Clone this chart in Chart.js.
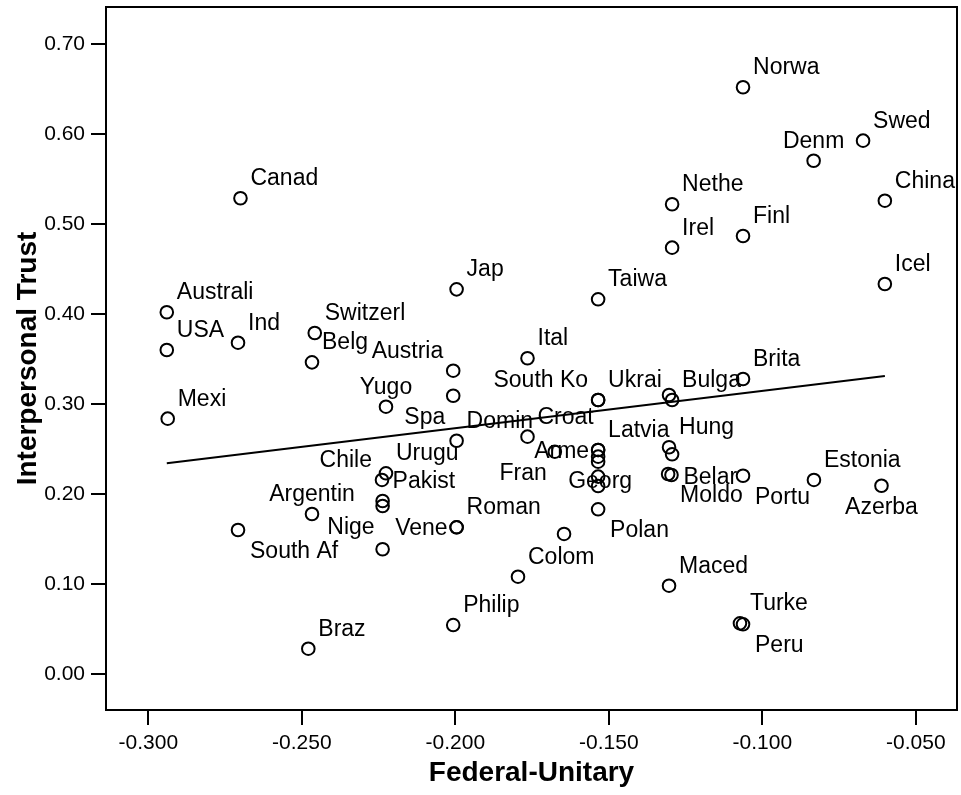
<!DOCTYPE html>
<html lang="en">
<head>
  <meta charset="UTF-8">
  <title>Interpersonal Trust vs Federal-Unitary</title>
  <script src="https://cdn.jsdelivr.net/npm/chart.js"></script>
  <style>
    body { margin: 0; background: #fff; }
    canvas { display: block; }
  </style>
</head>
<body>
  <canvas id="trustChart" width="961" height="795"></canvas>
  <script>
    // country labels as printed ('' = point shown without a label)
    const countries = [
      'Canad', 'Australi', 'USA', 'Ind', 'Switzerl', 'Belg', 'Mexi', 'Yugo',
      'Jap', 'Taiwa', 'Nethe', 'Irel', 'Ital', 'Austria', 'Norwa', 'Swed',
      'Denm', 'China', 'Finl', 'Icel', 'Brita', 'Urugu', 'Chile', 'Pakist',
      'Nige', '', 'Argentin', 'South Af', 'Braz', 'Spa', 'South Ko', 'Ukrai',
      'Domin', 'Croat', 'Fran', 'Latvia', 'Arme', '', '', 'Georg',
      '', 'Polan', 'Vene', 'Roman', '', 'Colom', 'Philip', 'Maced',
      '', 'Bulga', 'Hung', '', 'Moldo', 'Belar', 'Portu', 'Estonia',
      'Azerba', 'Turke', 'Peru'
    ];
    const federalUnitary = [
      -0.270, -0.294, -0.294, -0.2708, -0.2458, -0.2467, -0.2937, -0.2226,
      -0.1996, -0.1535, -0.1294, -0.1294, -0.1765, -0.2007, -0.1063, -0.0672,
      -0.0833, -0.0601, -0.1063, -0.0601, -0.1063, -0.2226, -0.2239, -0.2237,
      -0.2237, -0.2237, -0.2467, -0.2708, -0.2479, -0.2007, -0.1535, -0.1535,
      -0.1996, -0.1765, -0.1676, -0.1535, -0.1535, -0.1535, -0.1535, -0.1535,
      -0.1535, -0.1535, -0.1996, -0.1996, -0.1646, -0.1796, -0.2007, -0.1304,
      -0.1304, -0.1294, -0.1304, -0.1294, -0.1307, -0.1296, -0.1063, -0.0832,
      -0.0612, -0.1073, -0.1063
    ];
    const trust = [
      0.5286, 0.4019, 0.3600, 0.3681, 0.3789, 0.3463, 0.2837, 0.2970,
      0.4274, 0.4163, 0.5219, 0.4737, 0.3508, 0.3370, 0.6519, 0.5926,
      0.5703, 0.5259, 0.4867, 0.4333, 0.3278, 0.2230, 0.2156, 0.1922,
      0.1867, 0.1386, 0.1778, 0.1600, 0.0281, 0.3092, 0.3044, 0.3044,
      0.2592, 0.2637, 0.2470, 0.2489, 0.2489, 0.2415, 0.2359, 0.2193,
      0.2089, 0.1830, 0.1630, 0.1630, 0.1556, 0.1081, 0.0544, 0.0981,
      0.3100, 0.3044, 0.2519, 0.2441, 0.2222, 0.2211, 0.2203, 0.2156,
      0.2092, 0.0563, 0.0552
    ];
    // fitted line, end points
    const fitX = [-0.294, -0.0601];
    const fitY = [0.2341, 0.3311];

    const xTicks = [-0.300, -0.250, -0.200, -0.150, -0.100, -0.050];
    const yTicks = [0.00, 0.10, 0.20, 0.30, 0.40, 0.50, 0.60, 0.70];

    // where each label sits relative to its marker (default ne)
    const labelPlace = {
      Austria: 'nw', Denm: 'n', Yugo: 'n', Argentin: 'n', Chile: 'nw',
      'South Ko': 'nw', Nige: 'sw', Spa: 'sw', Fran: 'sw', Arme: 'w',
      Vene: 'w', Georg: 'c', 'South Af': 'se', Polan: 'se', Moldo: 'se',
      Portu: 'se', Peru: 'se', Azerba: 's', Belar: 'e'
    };
    const placeOffsets = {
      ne: ['left', 10, -13], nw: ['right', -10, -13], n: ['center', 0, -13],
      se: ['left', 12, 28], sw: ['right', -8, 28], s: ['center', 0, 28],
      e: ['left', 12, 9], w: ['right', -9, 8], c: ['center', 2, 11]
    };

    const FONT = "'Liberation Sans', Arial, sans-serif";
    Chart.defaults.font.family = FONT;
    Chart.defaults.color = '#000';

    const pointLabels = {
      id: 'pointLabels',
      afterDatasetsDraw(chart) {
        const ctx = chart.ctx;
        const meta = chart.getDatasetMeta(0);
        ctx.save();
        ctx.font = '23px ' + FONT;
        ctx.fillStyle = '#000';
        ctx.textBaseline = 'alphabetic';
        meta.data.forEach((pt, i) => {
          const name = countries[i];
          if (!name) return;
          const [align, dx, dy] = placeOffsets[labelPlace[name] || 'ne'];
          ctx.textAlign = align;
          ctx.fillText(name, pt.x + dx, pt.y + dy);
        });
        ctx.restore();
      }
    };

    const frame = {
      id: 'frame',
      afterDraw(chart) {
        const { left, top, width, height } = chart.chartArea;
        const ctx = chart.ctx;
        ctx.save();
        ctx.strokeStyle = '#000';
        ctx.lineWidth = 2;
        ctx.strokeRect(left, top, width, height);
        ctx.restore();
      }
    };

    const axisLook = {
      grid: { drawOnChartArea: false, drawTicks: true, tickLength: 15, color: '#000', lineWidth: 2 },
      border: { display: true, color: '#000', width: 2 }
    };

    new Chart(document.getElementById('trustChart'), {
      type: 'scatter',
      data: {
        datasets: [{
          label: 'Interpersonal Trust',
          data: federalUnitary.map((x, i) => ({ x: x, y: trust[i] })),
          pointStyle: 'circle',
          pointRadius: 6.3,
          pointBorderWidth: 2,
          pointBorderColor: '#000',
          pointBackgroundColor: 'rgba(0,0,0,0)'
        }, {
          type: 'line',
          label: 'Fit',
          data: fitX.map((x, i) => ({ x: x, y: fitY[i] })),
          borderColor: '#000',
          borderWidth: 2,
          pointRadius: 0,
          fill: false
        }]
      },
      options: {
        responsive: false,
        animation: false,
        layout: { autoPadding: false, padding: { left: 0, top: 7, right: 4, bottom: 0 } },
        plugins: { legend: { display: false }, tooltip: { enabled: false } },
        scales: {
          x: {
            type: 'linear',
            position: 'bottom',
            min: -0.3138,
            max: -0.0366,
            afterBuildTicks: s => { s.ticks = xTicks.map(v => ({ value: v })); },
            afterFit: s => { s.height = 85; s.paddingLeft = 0; s.paddingRight = 0; },
            ticks: { callback: v => v.toFixed(3), font: { size: 21 }, color: '#000', padding: 6, maxRotation: 0, autoSkip: false },
            title: { display: true, text: 'Federal-Unitary', font: { size: 28, weight: 'bold' }, color: '#000', padding: { top: 0, bottom: 5 } },
            ...axisLook
          },
          y: {
            type: 'linear',
            min: -0.04,
            max: 0.7411,
            afterBuildTicks: s => { s.ticks = yTicks.map(v => ({ value: v })); },
            afterFit: s => { s.width = 106; s.paddingTop = 0; s.paddingBottom = 0; },
            ticks: { callback: v => v.toFixed(2), font: { size: 21 }, color: '#000', padding: 6 },
            title: { display: true, text: 'Interpersonal Trust', font: { size: 28, weight: 'bold' }, color: '#000', padding: { top: 11, bottom: 0 } },
            ...axisLook
          }
        }
      },
      plugins: [pointLabels, frame]
    });
  </script>
</body>
</html>
